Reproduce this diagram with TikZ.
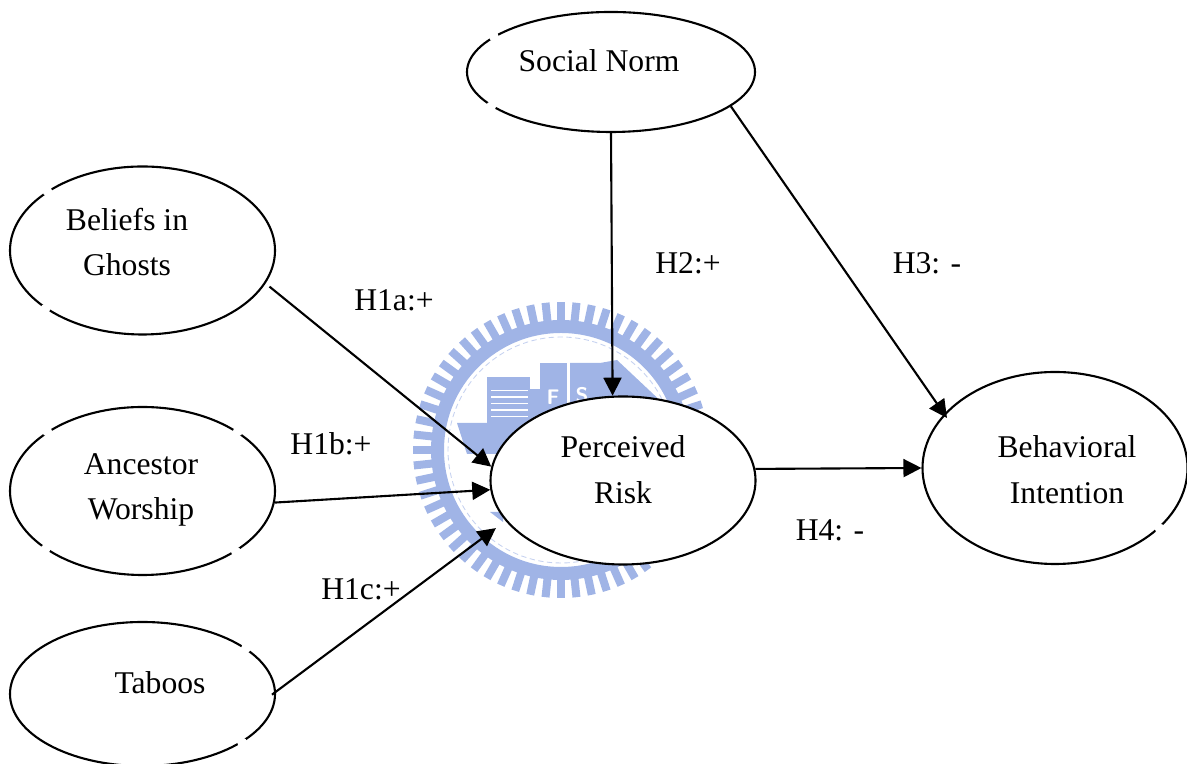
\documentclass[tikz,border=0pt]{standalone}
\usepackage{fontspec}
\setmainfont{Liberation Serif}
\usetikzlibrary{shapes.geometric,arrows.meta}
\definecolor{wmblue}{RGB}{160,180,230}
\tikzset{
  blob/.style={draw, ellipse, fill=white, line width=1.2pt, inner sep=0pt, minimum width=5.3cm},
  txt/.style={align=center, font=\fontsize{18}{26}\selectfont},
  conn/.style={line width=1.2pt, -{Triangle[length=0.36cm,width=0.36cm]}},
}
\begin{document}
\begin{tikzpicture}
\useasboundingbox (0,0) rectangle (23.74,15.28);
% watermark
\foreach \a in {0,6,...,354} {
  \draw [wmblue, line width=0.16cm] (11.22,6.28) ++(\a:2.5) -- ++(\a:0.46);
}
\draw [wmblue, line width=0.26cm] (11.22,6.28) circle [radius=2.47];
\draw [wmblue!60, densely dashed, line width=0.5pt] (11.22,6.28) circle [radius=2.26];
\fill [wmblue] (9.74,6.82) rectangle (10.6,7.74);
\foreach \y in {6.95,7.08,...,7.6} {
  \draw [white, line width=1pt] (9.82,\y) -- (10.55,\y);
}
\fill [wmblue] (10.6,6.82) rectangle (10.8,7.5);
\fill [wmblue] (10.8,6.82) rectangle (11.34,8.02);
\fill [wmblue] (11.4,6.82) -- (11.4,8.02) -- (12.0,8.02) -- (12.34,8.08) -- (13.34,7.14) -- (13.34,6.82) -- cycle;
\fill [wmblue] (9.14,6.82) -- (13,6.82) -- (13,6.2) -- (9.34,6.2) -- cycle;
\fill [wmblue] (9.8,5.04) -- (10.06,5.04) -- (10.06,4.84) -- cycle;
\node [white, font=\sffamily\bfseries\large] (wmf) at (11.06,7.34) {F};
\node [white, font=\sffamily\bfseries\large] (wms) at (11.64,7.38) {S};
% ellipses
\node [blob, minimum width=5.76cm, minimum height=2.4cm] (social) at (12.22,13.84) {};
\node [blob, minimum height=3.36cm] (beliefs) at (2.85,10.27) {};
\node [blob, minimum height=3.36cm] (ancestor) at (2.85,5.46) {};
\node [blob, minimum height=2.88cm] (taboos) at (2.85,1.4) {};
\node [blob, minimum height=3.36cm] (perceived) at (12.46,5.67) {};
\node [blob, minimum height=3.84cm] (behavioral) at (21.1,5.92) {};
% breaks in the outlines
\foreach \n/\a in {beliefs/148.6, beliefs/211.2, ancestor/148.7, ancestor/211.3, ancestor/32, ancestor/-33,
    taboos/24.8, taboos/-26.7, social/163.4, social/196.4, behavioral/-30} {
  \fill [white] (\n.\a) circle [radius=0.1];
}
% names
\node [txt] (socialtxt) at (11.98,14.06) {Social Norm};
\node [txt] (beliefstxt) at (2.54,10.44) {Beliefs in\\Ghosts};
\node [txt] (ancestortxt) at (2.82,5.48) {Ancestor\\Worship};
\node [txt] (taboostxt) at (3.2,1.62) {Taboos};
\node [txt] (perceivedtxt) at (12.46,5.88) {Perceived\\Risk};
\node [txt] (behavioraltxt) at (21.34,5.88) {Behavioral\\Intention};
% arrows
\draw [conn, shorten <=0.1cm] (beliefs.-15.8) -- (perceived.174);
\draw [conn] (ancestor.-5.2) -- (perceived.184);
\draw [conn, shorten <=-0.1cm, shorten >=0.24cm] (taboos.1) -- (perceived.199);
\draw [conn] (social.270) -- (perceived.97.5);
\draw [conn, shorten >=-0.1cm] (social.-16.3) -- (behavioral.154.4);
\draw [conn] (perceived.5.6) -- (behavioral.180);
% hypotheses
\node [txt] (hia) at (7.88,9.28) {H1a:+};
\node [txt] (hib) at (6.62,6.4) {H1b:+};
\node [txt] (hic) at (7.22,3.5) {H1c:+};
\node [txt] (hii) at (13.76,10.02) {H2:+};
\node [txt] (hiii) at (18.54,10.02) {H3: -};
\node [txt] (hiv) at (16.6,4.68) {H4: -};
\end{tikzpicture}
\end{document}
